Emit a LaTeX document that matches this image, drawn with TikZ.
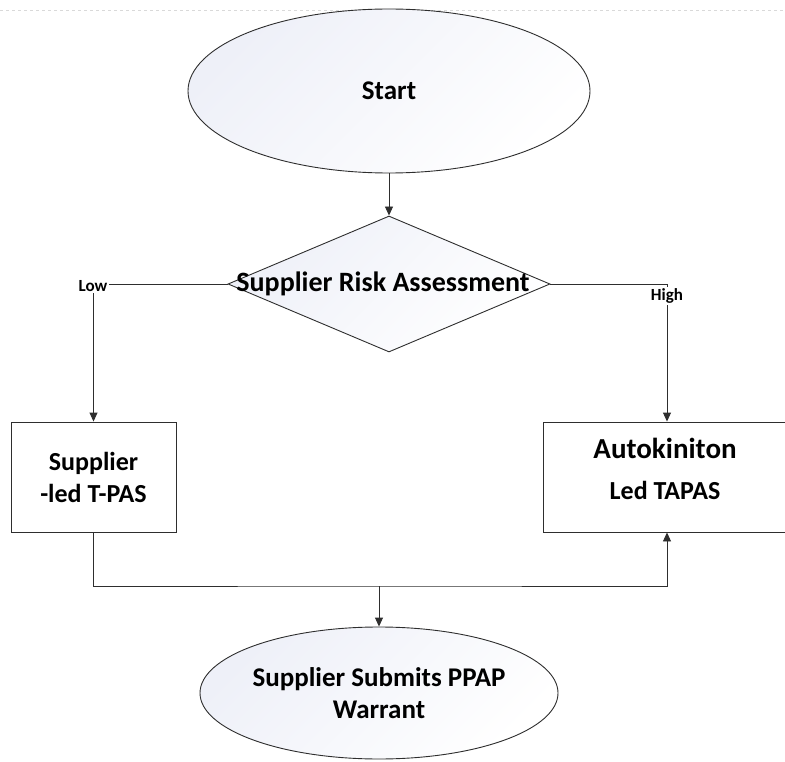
\documentclass[tikz,border=0pt]{standalone}
\usepackage{fontspec}
\setmainfont{Carlito}
\usetikzlibrary{shapes.geometric, arrows.meta}
\definecolor{edgegray}{HTML}{2E2E2E}
\definecolor{shadeblue}{HTML}{EEF0F8}
\tikzset{
    terminal/.style={ellipse, draw=edgegray, line width=0.9pt, top color=shadeblue, bottom color=white, middle color=white!50!shadeblue, shading angle=45, inner sep=0pt, align=center, font=\bfseries\fontsize{27}{32}\selectfont},
    decision/.style={diamond, draw=edgegray, line width=0.9pt, top color=shadeblue, bottom color=white, middle color=white!50!shadeblue, shading angle=45, inner sep=0pt},
    process/.style={rectangle, draw=edgegray, fill=white, line width=0.9pt, inner sep=0pt, align=center, font=\bfseries\fontsize{26}{32}\selectfont},
    boxtext/.style={inner sep=0pt, align=center, font=\bfseries\fontsize{26}{32}\selectfont},
    branch/.style={fill=white, inner sep=1.5pt, font=\bfseries\fontsize{17}{19}\selectfont},
    flow/.style={draw=edgegray, line width=0.9pt, -{Triangle[length=9pt, width=8pt]}}
}
\begin{document}
\begin{tikzpicture}[x=1pt, y=-1pt]
    \useasboundingbox (0, 0) rectangle (785, 762);
    \draw[black!15, dashed](0, 10) to (785, 10);

    % shapes
    \node[terminal, minimum width=402, minimum height=164](start) at(389, 91){Start};
    \node[decision, minimum width=322, minimum height=136](risk) at(389, 284){};
        \node[boxtext, font=\bfseries\fontsize{28}{32}\selectfont](risktext) at(383, 284){Supplier Risk Assessment};
    \node[process, minimum width=165, minimum height=110](lowbox) at(93.5, 477){Supplier\\-led T-PAS};
    \node[process, minimum width=248, minimum height=110](highbox) at(667, 477){};
        \node[boxtext](hightext) at(665, 469){{\fontsize{29}{32}\selectfont Autokiniton}\\[9pt]Led TAPAS};
    \node[terminal, minimum width=358, minimum height=132](finish) at(379, 693){Supplier Submits PPAP\\Warrant};
    \coordinate(join) at(379, 586);

    % connectors
    \draw[flow](start) to (risk);
    \draw[flow](risk.west) -| (lowbox.north);
    \draw[flow](risk.east) -| (highbox.north);
        \node[branch](low) at(93, 286){Low};
        \node[branch](high) at(667, 296){High};
    \draw[flow](lowbox.south) |- (join) -| (highbox.south);
    \draw[flow](join) to (finish);
\end{tikzpicture}
\end{document}
